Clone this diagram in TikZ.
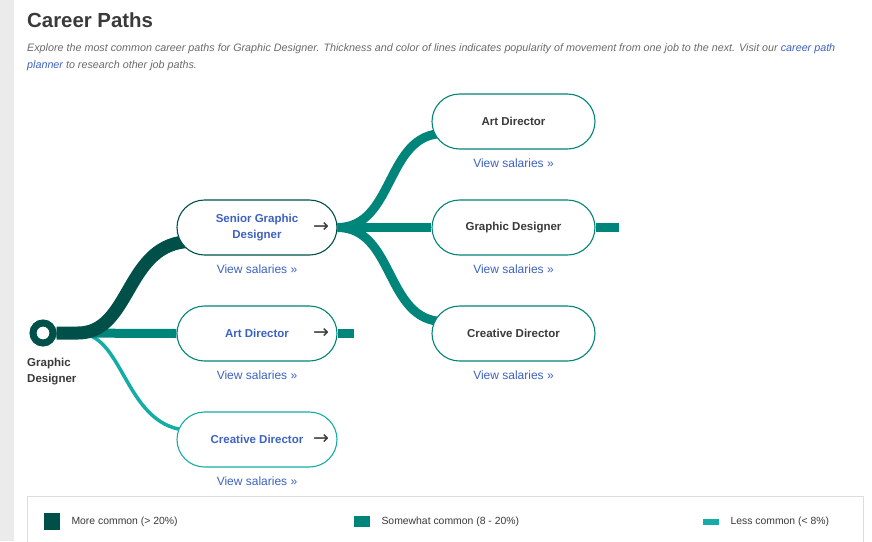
\documentclass[tikz,border=0pt]{standalone}
\usepackage{fontspec}
\setmainfont{Liberation Sans}
\newfontfamily\symfont{DejaVu Sans}
\usepackage{tikz}
\usetikzlibrary{backgrounds}

\definecolor{pathdark}{HTML}{00504A}
\definecolor{pathmid}{HTML}{00857A}
\definecolor{pathlight}{HTML}{14ADA5}
\definecolor{linkblue}{HTML}{3D62C2}
\definecolor{textgray}{HTML}{3A3A3A}
\definecolor{descgray}{HTML}{6B6B6B}
\definecolor{stripgray}{HTML}{EBEBEB}
\definecolor{boxgray}{HTML}{DDDDDD}

\begin{document}
\begin{tikzpicture}[x=1pt, y=-1pt,
  pill/.style={draw, fill=white, line width=1.1pt, rounded corners=27.5pt, minimum height=55pt, align=center, font=\fontsize{11.5}{16}\selectfont\bfseries},
  leftpill/.style={pill, minimum width=160pt, text=linkblue},
  rightpill/.style={pill, minimum width=163pt, text=textgray},
  salary/.style={text=linkblue, font=\fontsize{12}{14}\selectfont},
  go/.style={text=textgray, font=\symfont\fontsize{19}{19}\selectfont},
  thickpath/.style={draw=pathdark, line width=13pt},
  midpath/.style={draw=pathmid, line width=9pt},
  thinpath/.style={draw=pathlight, line width=3.5pt},
  legend/.style={anchor=west, text=textgray, font=\fontsize{10.4}{12}\selectfont}]
\useasboundingbox (0,0) rectangle (872,541);
\node[anchor=base west, inner sep=0, text=textgray, font=\fontsize{20.4}{24}\selectfont\bfseries] (title) at (27,27) {Career Paths};
\node[anchor=base west, inner sep=0, text=descgray, font=\fontsize{10.75}{12}\selectfont\itshape] (descone) at (27,51) {Explore the most common career paths for Graphic Designer. Thickness and color of lines indicates popularity of movement from one job to the next. Visit our \textcolor{linkblue}{career path}};
\node[anchor=base west, inner sep=0, text=descgray, font=\fontsize{10.75}{12}\selectfont\itshape] (desctwo) at (27,68) {\textcolor{linkblue}{planner} to research other job paths.};
\node[circle, draw=pathdark, fill=white, line width=7pt, minimum size=20pt, inner sep=0] (start) at (43,333) {};
\node[anchor=north west, inner sep=0, align=left, text=textgray, font=\fontsize{11.5}{16}\selectfont\bfseries] (startlabel) at (27,358) {Graphic\\Designer};
\node[leftpill, draw=pathdark] (sgd) at (257,227.5) {Senior Graphic\\Designer};
\node[leftpill, draw=pathmid] (adone) at (257,333.5) {Art Director};
\node[leftpill, draw=pathlight] (cdone) at (257,439.5) {Creative Director};
\node[rightpill, draw=pathmid] (adtwo) at (513.5,121.5) {Art Director};
\node[rightpill, draw=pathmid] (gdtwo) at (513.5,227.5) {Graphic Designer};
\node[rightpill, draw=pathmid] (cdtwo) at (513.5,333.5) {Creative Director};
\node[go] (sgdgo) at (321,227.5) {→};
\node[go] (adonego) at (321,333.5) {→};
\node[go] (cdonego) at (321,439.5) {→};
\node[salary] (sgdsal) at (257,269) {View salaries »};
\node[salary] (adonesal) at (257,375) {View salaries »};
\node[salary] (cdonesal) at (257,481) {View salaries »};
\node[salary] (adtwosal) at (513.5,163) {View salaries »};
\node[salary] (gdtwosal) at (513.5,269) {View salaries »};
\node[salary] (cdtwosal) at (513.5,375) {View salaries »};
\coordinate (adoneend) at (354,333.5);
\coordinate (gdtwoend) at (619,227.5);
\begin{scope}[on background layer]
\fill[white] (0,0) rectangle (872,541);
\fill[stripgray] (0,0) rectangle (14,541);
\draw[thinpath] (start.east) -- (80,333.5) .. controls (125,335) and (125,430) .. ([xshift=15pt,yshift=9pt]cdone.west);
\draw[midpath] (start.east) -- (adone.west);
\draw[midpath] (adone.east) -- (adoneend);
\draw[thickpath] (start.east) -- (78,333) .. controls (132,333) and (125,241.5) .. ([xshift=15pt,yshift=-14pt]sgd.west);
\draw[midpath] (sgd.east) .. controls (395,227.5) and (385,133.5) .. ([xshift=12pt,yshift=-12pt]adtwo.west);
\draw[midpath] (sgd.east) -- (gdtwo.west);
\draw[midpath] (sgd.east) .. controls (395,227.5) and (385,321.5) .. ([xshift=12pt,yshift=12pt]cdtwo.west);
\draw[midpath] (gdtwo.east) -- (gdtwoend);
\end{scope}
\draw[boxgray, line width=1pt] (27,545) -- (27,496) -- (863,496) -- (863,545);
\fill[pathdark] (44,513) rectangle (60,530);
\fill[pathmid] (354,516) rectangle (370,527);
\fill[pathlight] (703,519) rectangle (719,525);
\node[legend] (legmore) at (68,521.5) {More common (> 20\%)};
\node[legend] (legsome) at (378,521.5) {Somewhat common (8 - 20\%)};
\node[legend] (legless) at (727,521.5) {Less common (< 8\%)};
\end{tikzpicture}
\end{document}
